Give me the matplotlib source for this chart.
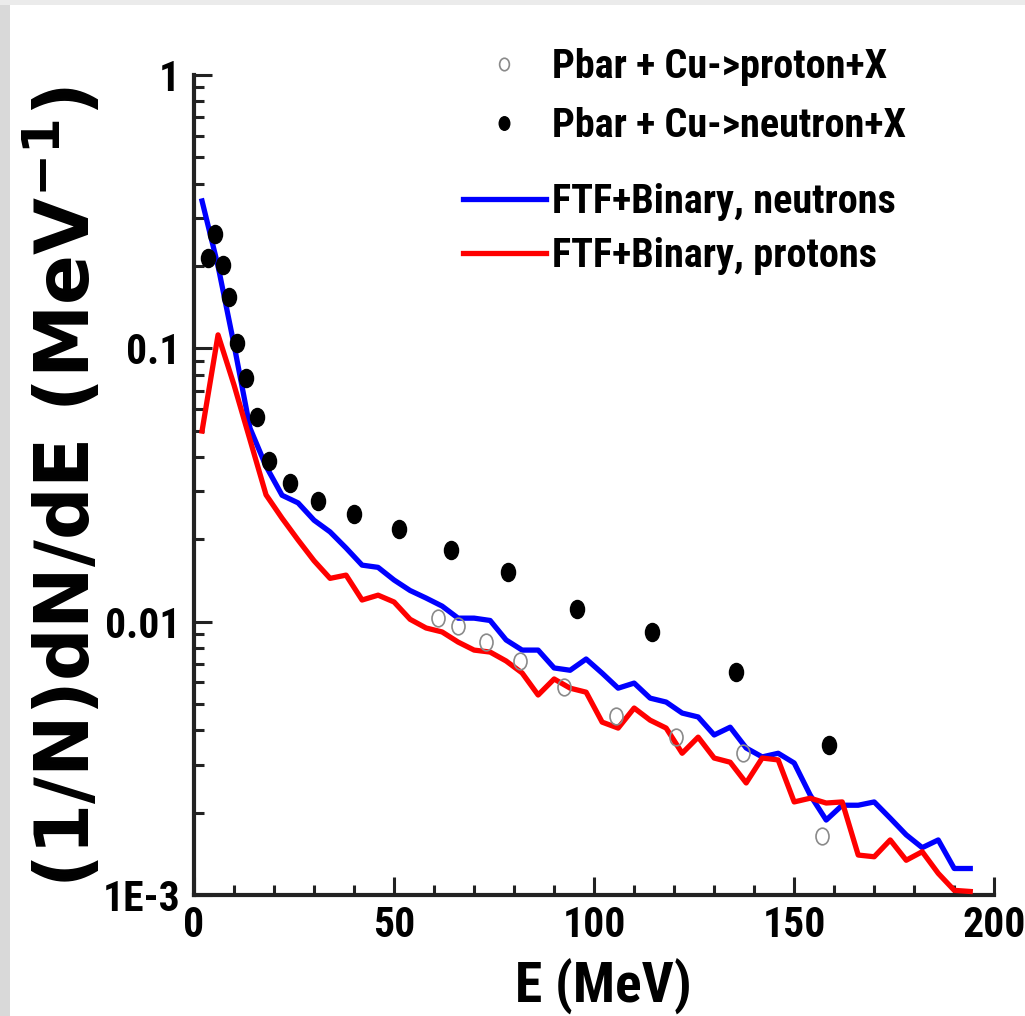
import numpy as np
import matplotlib
matplotlib.use('Agg')
import matplotlib.pyplot as plt
from matplotlib import font_manager
from matplotlib.font_manager import FontProperties
from matplotlib.path import Path
from matplotlib.transforms import Affine2D
from matplotlib.ticker import FixedLocator, LogLocator, MultipleLocator, NullFormatter

# data
E_model = [2, 6, 10, 14, 18, 22, 26, 30, 34, 38, 42, 46, 50, 54, 58, 62, 66, 70,
           74, 78, 82, 86, 90, 94, 98, 102, 106, 110, 114, 118, 122, 126, 130,
           134, 138, 142, 146, 150, 154, 158, 162, 166, 170, 174, 178, 182, 186,
           190, 194]
ftf_neutrons = [0.346, 0.200, 0.103, 0.051, 0.037, 0.029, 0.0272, 0.0235, 0.0213,
                0.0186, 0.0161, 0.0158, 0.0142, 0.0130, 0.0122, 0.0114, 0.0103,
                0.0103, 0.0101, 0.00857, 0.00787, 0.00787, 0.00677, 0.00664,
                0.00730, 0.00648, 0.00571, 0.00596, 0.00525, 0.00508, 0.00463,
                0.00448, 0.00385, 0.00411, 0.00345, 0.00320, 0.00330, 0.00304,
                0.00232, 0.00188, 0.00213, 0.00213, 0.00219, 0.00191, 0.00166,
                0.00149, 0.00159, 0.00125, 0.00125]
ftf_protons = [0.0498, 0.112, 0.0734, 0.0462, 0.0291, 0.0239, 0.0199, 0.0167,
               0.0144, 0.0148, 0.0120, 0.0125, 0.0118, 0.0102, 0.00948, 0.00917,
               0.00842, 0.00787, 0.00774, 0.00718, 0.00649, 0.00539, 0.00617,
               0.00571, 0.00552, 0.00429, 0.00408, 0.00483, 0.00436, 0.00408,
               0.00330, 0.00378, 0.00317, 0.00306, 0.00257, 0.00317, 0.00312,
               0.00219, 0.00226, 0.00217, 0.00219, 0.00140, 0.00138, 0.00159,
               0.00134, 0.00144, 0.00120, 0.00104, 0.00103]

E_neutron = [3.5, 5.25, 7.25, 8.75, 10.75, 13, 15.75, 18.75, 24, 31, 40, 51.25,
             64.25, 78.5, 95.75, 114.5, 135.5, 158.75]
neutron_data = [0.214, 0.262, 0.202, 0.154, 0.105, 0.078, 0.056, 0.0387, 0.0322,
                0.0276, 0.0248, 0.0218, 0.0183, 0.0152, 0.0111, 0.00916, 0.00654,
                0.00354]

E_proton = [61, 66, 73, 81.5, 92.5, 105.5, 120.5, 137.25, 157]
proton_data = [0.0103, 0.00964, 0.00842, 0.00718, 0.00577, 0.00452, 0.00378,
               0.00330, 0.00164]

ytick_labels = ['1E-3', '0.01', '0.1', '1']


def narrow_bold():
    # look for a condensed bold sans face, else plain Liberation Sans Bold
    prefs = ['liberationsansnarrow-bold', 'robotocondensed-bold',
             'notosans-condensedbold', 'dejavusanscondensed-bold',
             'opensans-condensedbold', 'arialnarrow', 'nimbussansnarrow-bold']
    files = [f.fname for f in font_manager.fontManager.ttflist]
    for p in prefs:
        for fn in files:
            base = fn.lower().replace('_', '').replace(' ', '').split('/')[-1]
            if base.startswith(p) and 'italic' not in base and 'oblique' not in base:
                return fn
    return None


nb = narrow_bold()
if nb:
    def fp(size):
        return FontProperties(fname=nb, size=size)
else:
    def fp(size):
        return FontProperties(family='Liberation Sans', weight='bold', size=size * 0.85)

plt.rcParams['font.family'] = ['Liberation Sans', 'DejaVu Sans']
plt.rcParams['mathtext.default'] = 'regular'

# dots in the original look slightly taller than wide
oval = Path.unit_circle().transformed(Affine2D().scale(0.78, 1.0))

fig = plt.figure(figsize=(10.25, 10.16), dpi=100)
fig.patch.set_facecolor('white')
# thin grey border on the top/left edge of the page
fig.add_artist(plt.Rectangle((0, 0), 10 / 1025, 1, transform=fig.transFigure,
                             facecolor='#d9d9d9', edgecolor='none'))
fig.add_artist(plt.Rectangle((0, 1 - 5 / 1016), 1, 5 / 1016,
                             transform=fig.transFigure, facecolor='#ebebeb',
                             edgecolor='none'))

ax = fig.add_axes([0.1893, 0.1191, 0.7807, 0.8071])
ax.set_facecolor('none')

l_open, = ax.plot(E_proton, proton_data, ls='none', marker=oval, ms=12,
                  mfc='none', mec='#8a8a8a', mew=1.2, zorder=4,
                  label='Pbar + Cu->proton+X')
l_fill, = ax.plot(E_neutron, neutron_data, ls='none', marker=oval, ms=13,
                  mfc='black', mec='black', zorder=4,
                  label='Pbar + Cu->neutron+X')
l_blue, = ax.plot(E_model, ftf_neutrons, color='#0000ff', lw=3.8,
                  label='FTF+Binary, neutrons', zorder=3)
l_red, = ax.plot(E_model, ftf_protons, color='#ff0000', lw=3.8,
                 label='FTF+Binary, protons', zorder=3)

ax.set_yscale('log')
ax.set_xlim(0, 200)
ax.set_ylim(1e-3, 1)

ax.spines['top'].set_visible(False)
ax.spines['right'].set_visible(False)
for s in ['left', 'bottom']:
    ax.spines[s].set_linewidth(3)
    ax.spines[s].set_color('#222222')

ax.xaxis.set_major_locator(MultipleLocator(50))
ax.xaxis.set_minor_locator(MultipleLocator(10))
ax.yaxis.set_major_locator(FixedLocator([1e-3, 1e-2, 1e-1, 1]))
ax.yaxis.set_minor_locator(LogLocator(base=10, subs=np.arange(2, 10)))
ax.yaxis.set_minor_formatter(NullFormatter())
ax.set_yticklabels(ytick_labels)

ax.tick_params(which='both', direction='in', color='#222222', width=2.2)
ax.tick_params(which='major', length=13)
ax.tick_params(which='minor', length=7)
ax.tick_params(axis='x', pad=7)
ax.tick_params(axis='y', pad=10)
for lab in ax.get_xticklabels() + ax.get_yticklabels():
    lab.set_fontproperties(fp(30))

fig.text(603 / 1025, 1 - 1003 / 1016, 'E (MeV)', ha='center', va='baseline',
         fontproperties=fp(40))
fig.text(65 / 1025, 1 - 487 / 1016, '(1/N)dN/dE (MeV$^{-1}$)', rotation=90,
         ha='center', va='center', fontsize=53, fontweight='bold',
         family=['DejaVu Sans'])

leg1 = ax.legend(handles=[l_open, l_fill], loc='upper left',
                 bbox_to_anchor=(463 / 1025, 1 - 48 / 1016),
                 bbox_transform=fig.transFigure, frameon=False, prop=fp(29),
                 handlelength=2.05, handletextpad=0.15, borderpad=0,
                 borderaxespad=0, labelspacing=0.52, markerscale=0.75)
ax.add_artist(leg1)
ax.legend(handles=[l_blue, l_red], loc='upper left',
          bbox_to_anchor=(463 / 1025, 1 - 183 / 1016),
          bbox_transform=fig.transFigure, frameon=False, prop=fp(29),
          handlelength=2.05, handletextpad=0.15, borderpad=0,
          borderaxespad=0, labelspacing=0.4)

fig.savefig('out.png', dpi=100)
